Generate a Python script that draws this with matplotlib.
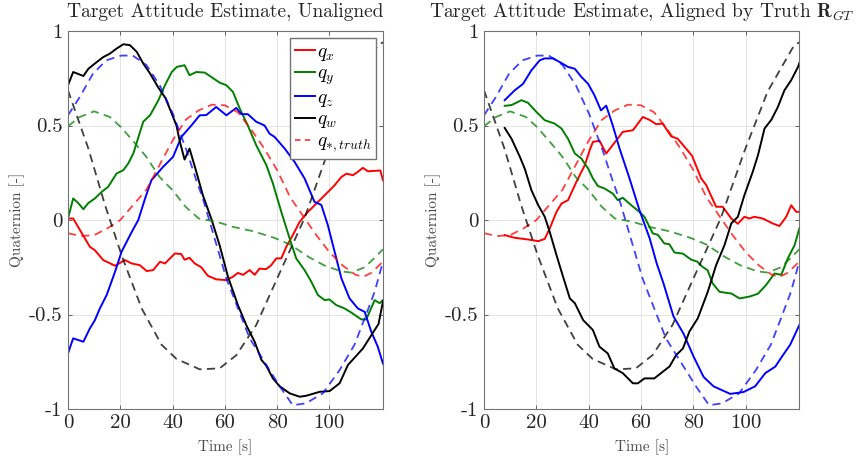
import numpy as np
import matplotlib
matplotlib.use('Agg')
import matplotlib.pyplot as plt

plt.rcParams['font.family'] = ['cmr10', 'DejaVu Serif']
plt.rcParams['mathtext.fontset'] = 'cm'
plt.rcParams['axes.unicode_minus'] = False

# truth quaternion (same in both panels)
t_qx_true = [0, 5, 10, 15, 20, 25, 30, 35, 40, 45, 50, 55, 60, 65, 70, 75, 80, 85, 90, 95, 100, 105, 110, 113, 116, 120.5]
qx_true = [-0.07, -0.085, -0.08, -0.045, 0.0, 0.08, 0.16, 0.29, 0.42, 0.53, 0.58, 0.61, 0.607, 0.57, 0.48, 0.38, 0.264,
           0.12, 0.02, -0.08, -0.17, -0.24, -0.29, -0.30, -0.28, -0.22]
t_qy_true = [0, 4.5, 10, 16, 20.4, 26, 30, 35, 40, 45, 50, 57, 63, 71, 79, 85, 92, 98, 104.6, 108.4, 113.5, 117.3, 120.5]
qy_true = [0.496, 0.545, 0.575, 0.545, 0.49, 0.40, 0.334, 0.228, 0.158, 0.07, 0.008, -0.01, -0.036, -0.06, -0.095,
           -0.13, -0.195, -0.24, -0.272, -0.278, -0.25, -0.2, -0.155]
t_qz_true = [0, 4.5, 9.6, 14.7, 20.4, 24.8, 30, 35.1, 40.2, 45.3, 49.1, 51.6, 60.6, 69.5, 81, 86, 91, 97.5, 103.9,
             109.6, 113.5, 117.3, 120.5]
qz_true = [0.554, 0.65, 0.775, 0.845, 0.87, 0.87, 0.82, 0.713, 0.56, 0.37, 0.21, 0.114, -0.31, -0.626, -0.88, -0.98,
           -0.97, -0.917, -0.794, -0.66, -0.52, -0.38, -0.22]
t_qw_true = [0, 7.8, 14.2, 20.5, 28.2, 35.8, 41.5, 50.4, 58, 64.4, 72, 80, 90.5, 99.4, 108.4, 118.5, 120.5]
qw_true = [0.686, 0.378, 0.078, -0.186, -0.468, -0.66, -0.735, -0.79, -0.785, -0.715, -0.556, -0.31, 0.01, 0.36, 0.68,
           0.924, 0.94]

# unaligned estimate (left)
t_qx_L = [0, 2, 6.5, 8.4, 10.3, 13.5, 18, 21.8, 24.4, 27.5, 30.1, 32.6, 35.2, 37.1, 40.9, 43.3, 44.6, 46.5, 48.5, 51,
          53.5, 56.7, 60.6, 63.1, 65, 67, 69.5, 71.4, 73.3, 75.8, 77.7, 79.7, 81.6, 83.5, 86, 88.6, 91.8, 95, 98.2, 102,
          104.6, 106.5, 109, 110.9, 112.8, 114.7, 117.3, 119.5, 120.5]
qx_L = [0.008, 0.008, -0.098, -0.142, -0.16, -0.212, -0.242, -0.212, -0.23, -0.239, -0.27, -0.265, -0.221, -0.23,
        -0.177, -0.18, -0.21, -0.2, -0.23, -0.25, -0.295, -0.314, -0.318, -0.3, -0.28, -0.29, -0.265, -0.29, -0.257,
        -0.26, -0.24, -0.203, -0.203, -0.142, -0.08, -0.01, 0.043, 0.087, 0.131, 0.184, 0.228, 0.245, 0.237, 0.255,
        0.276, 0.258, 0.26, 0.262, 0.21]
t_qy_L = [0, 2, 3.9, 5.9, 7.8, 10.3, 12.9, 15.4, 18.6, 21.2, 23.1, 25, 28.8, 31.4, 34.6, 37.1, 39.7, 41.6, 44.6, 46.5,
          49.1, 52.3, 54.8, 58, 60.6, 63.1, 65.7, 68.8, 72, 75.9, 78.4, 81.6, 84.8, 87.3, 90.5, 93.1, 95.6, 98.2, 100,
          102.6, 105.8, 108.4, 112.2, 114.1, 117.3, 119.2, 120.5]
qy_L = [0.008, 0.114, 0.09, 0.057, 0.09, 0.114, 0.149, 0.176, 0.246, 0.264, 0.30, 0.352, 0.52, 0.554, 0.634, 0.713,
        0.783, 0.81, 0.819, 0.766, 0.783, 0.78, 0.757, 0.727, 0.713, 0.678, 0.59, 0.50, 0.396, 0.29, 0.193, 0.043,
        -0.098, -0.203, -0.265, -0.327, -0.397, -0.424, -0.42, -0.45, -0.468, -0.49, -0.526, -0.526, -0.424, -0.44,
        -0.424]
t_qz_L = [0, 2, 3.9, 5.9, 8.4, 10.3, 12.2, 14.8, 18, 20.5, 24.4, 26.9, 29.5, 31.9, 36.3, 40.2, 43.4, 47.2, 50.4, 52.9,
          56.7, 60.6, 64.4, 66.3, 68.8, 72, 75.2, 77.1, 79, 82.9, 86.7, 90.5, 94.3, 96.9, 99.4, 102, 104.6, 107.7, 110.9,
          113.5, 116, 118.5, 120.5]
qz_L = [-0.706, -0.626, -0.635, -0.644, -0.573, -0.53, -0.468, -0.397, -0.274, -0.168, -0.063, 0.0, 0.114, 0.21, 0.28,
        0.334, 0.44, 0.5, 0.554, 0.555, 0.598, 0.554, 0.593, 0.56, 0.56, 0.52, 0.50, 0.457, 0.44, 0.378, 0.307, 0.22,
        0.096, 0.08, -0.027, -0.168, -0.309, -0.415, -0.468, -0.486, -0.59, -0.67, -0.76]
t_qw_L = [0, 2, 5.9, 7.8, 10.3, 13.5, 16, 18.6, 21.2, 23.7, 26.3, 28.8, 31.4, 34.6, 37.3, 39.5, 41.5, 42.7, 44.6, 46.5,
          49.1, 51.6, 54.8, 58, 61.2, 65, 68.2, 71.4, 74, 75.8, 78.4, 81, 84.8, 88.6, 91.1, 96.3, 100.1, 103.9, 107.1,
          112.8, 117.3, 118.8, 120.5]
qw_L = [0.713, 0.783, 0.762, 0.8, 0.828, 0.862, 0.88, 0.907, 0.93, 0.925, 0.89, 0.828, 0.775, 0.70, 0.645, 0.57, 0.50,
        0.42, 0.32, 0.378, 0.255, 0.131, 0.008, -0.133, -0.3, -0.45, -0.556, -0.644, -0.74, -0.77, -0.838, -0.88,
        -0.917, -0.935, -0.93, -0.909, -0.905, -0.864, -0.767, -0.68, -0.582, -0.55, -0.43]

# estimate aligned by truth R_GT (right)
t_qx_R = [7.9, 11.7, 16.8, 20.7, 23.2, 25.1, 27.7, 29.6, 32.1, 35.3, 38.5, 40.4, 41.6, 44.1, 46.7, 50.5, 53, 56.9, 60.7,
          63.2, 65.8, 68.3, 71.5, 74, 77.2, 79.5, 83, 84.9, 88.7, 91.2, 94.5, 97, 99.5, 101.4, 103.3, 106.5, 110.3,
          112.9, 115.5, 117.4, 119.3, 120.5]
qx_R = [-0.08, -0.094, -0.103, -0.112, -0.1, -0.045, 0.043, 0.087, 0.105, 0.202, 0.29, 0.37, 0.413, 0.42, 0.352, 0.42,
        0.466, 0.475, 0.545, 0.53, 0.507, 0.51, 0.443, 0.43, 0.378, 0.34, 0.22, 0.185, 0.07, 0.07, 0.008, -0.02, 0.017,
        0.008, 0.017, 0.008, -0.018, -0.032, 0.017, 0.078, 0.043, 0.043]
t_qy_R = [7.9, 10.5, 14.3, 16.8, 20, 23.2, 27, 29.6, 32.1, 34.7, 37.2, 39.8, 41.6, 43.5, 46, 49.2, 51.1, 53, 56.2, 59.4,
          61.3, 64.5, 66.4, 68.9, 70.8, 72.8, 76, 79.2, 81.5, 83.5, 85.4, 87.4, 90, 94.5, 97.7, 101.5, 104.7, 107.8, 111,
          113.6, 116.1, 118.7, 120.5]
qy_R = [0.604, 0.608, 0.634, 0.62, 0.572, 0.528, 0.51, 0.484, 0.43, 0.352, 0.325, 0.272, 0.22, 0.18, 0.167, 0.14,
        0.105, 0.118, 0.079, 0.043, 0.017, -0.071, -0.078, -0.124, -0.128, -0.172, -0.178, -0.21, -0.22, -0.248,
        -0.265, -0.336, -0.38, -0.389, -0.415, -0.405, -0.39, -0.344, -0.283, -0.29, -0.203, -0.133, -0.045]
t_qz_R = [7.9, 11.7, 14.9, 18.1, 21.3, 23.2, 26.4, 29, 32.1, 34.7, 37.2, 39.8, 42.2, 44.7, 46.7, 49.2, 51.8, 55.6, 59.4,
          63.3, 66, 68.6, 72.4, 76.2, 80.1, 83.9, 87.7, 94.1, 99.2, 103.6, 107.5, 111.3, 114, 117, 120.5]
qz_R = [0.634, 0.686, 0.72, 0.792, 0.845, 0.855, 0.855, 0.835, 0.81, 0.8, 0.757, 0.72, 0.66, 0.58, 0.605, 0.50, 0.378,
        0.22, 0.052, -0.097, -0.23, -0.336, -0.51, -0.6, -0.723, -0.83, -0.88, -0.92, -0.91, -0.88, -0.81, -0.776,
        -0.72, -0.66, -0.556]
t_qw_R = [7.9, 10.5, 13.7, 15.6, 18.1, 20.7, 23.2, 25.1, 27.7, 30.2, 32.8, 34.7, 37.9, 40.4, 41.6, 44.1, 47.3, 49.8, 53,
          56.9, 58.8, 61.3, 65.1, 68.3, 70.9, 73.4, 76, 78.5, 81.7, 85.5, 88.7, 91.9, 94.5, 97, 99.5, 102.7, 104.7,
          107.2, 109.8, 112.3, 114.8, 117.4, 120, 120.5]
qw_R = [0.487, 0.43, 0.334, 0.27, 0.158, 0.079, 0.017, -0.063, -0.186, -0.30, -0.415, -0.44, -0.53, -0.565, -0.582,
        -0.67, -0.706, -0.785, -0.81, -0.864, -0.864, -0.838, -0.838, -0.803, -0.775, -0.715, -0.68, -0.59, -0.52,
        -0.38, -0.239, -0.133, -0.018, 0.017, 0.131, 0.255, 0.343, 0.484, 0.53, 0.598, 0.686, 0.74, 0.81, 0.83]

xticks = [0, 20, 40, 60, 80, 100]
yticks = [-1, -0.5, 0, 0.5, 1]
yticklabels = ['-1', '-0.5', '0', '0.5', '1']
colors = ['#ff0000', '#008000', '#0000ff', '#000000']
labels = [r'$q_x$', r'$q_y$', r'$q_z$', r'$q_w$']

truth = [(t_qx_true, qx_true), (t_qy_true, qy_true), (t_qz_true, qz_true), (t_qw_true, qw_true)]
est_L = [(t_qx_L, qx_L), (t_qy_L, qy_L), (t_qz_L, qz_L), (t_qw_L, qw_L)]
est_R = [(t_qx_R, qx_R), (t_qy_R, qy_R), (t_qz_R, qz_R), (t_qw_R, qw_R)]

fig = plt.figure(figsize=(8.57, 4.62), dpi=100)
ax1 = fig.add_axes([0.0793, 0.1147, 0.3676, 0.8182])
ax2 = fig.add_axes([0.5648, 0.1147, 0.3679, 0.8182])

dash = (0, (4.5, 3))
for ax, est in [(ax1, est_L), (ax2, est_R)]:
    for (t, q), c, lab in zip(est, colors, labels):
        ax.plot(t, q, color=c, lw=1.4, label=lab)
    for (t, q), c in zip(truth, colors):
        ax.plot(t, q, color=c, lw=1.3, ls=dash, alpha=0.75)
    ax.set_xlim(0, 120.5)
    ax.set_ylim(-1, 1)
    ax.set_xticks(xticks)
    ax.set_yticks(yticks)
    ax.set_yticklabels(yticklabels)
    ax.grid(True, color='0.88', lw=0.6)
    ax.set_axisbelow(True)
    ax.tick_params(direction='in', top=True, right=True, length=3, width=0.6, color='0.3',
                   labelsize=15, labelcolor='0.15', pad=4)
    for s in ax.spines.values():
        s.set_color('0.45')
        s.set_linewidth(0.8)
    ax.set_xlabel('Time [s]', fontsize=11, color='0.3', labelpad=5)
    ax.set_ylabel('Quaternion [-]', fontsize=11, color='0.3', labelpad=3)

ax1.plot([], [], color='#ff0000', lw=1.3, ls=(0, (3, 2.5)), alpha=0.75, label=r'$q_{\ast,truth}$')
ax1.legend(loc='upper right', fontsize=14, handlelength=1.0, handletextpad=0.1, labelspacing=0.1,
           borderpad=0.25, borderaxespad=0.35, fancybox=False, framealpha=1, edgecolor='0.45')

ax1.set_title('Target Attitude Estimate, Unaligned', fontsize=14, color='0.15', pad=10)
ax2.set_title(r'Target Attitude Estimate, Aligned by Truth $\mathbf{R}_{GT}$', fontsize=14, color='0.15', pad=10)

fig.savefig('out.png', dpi=100)
